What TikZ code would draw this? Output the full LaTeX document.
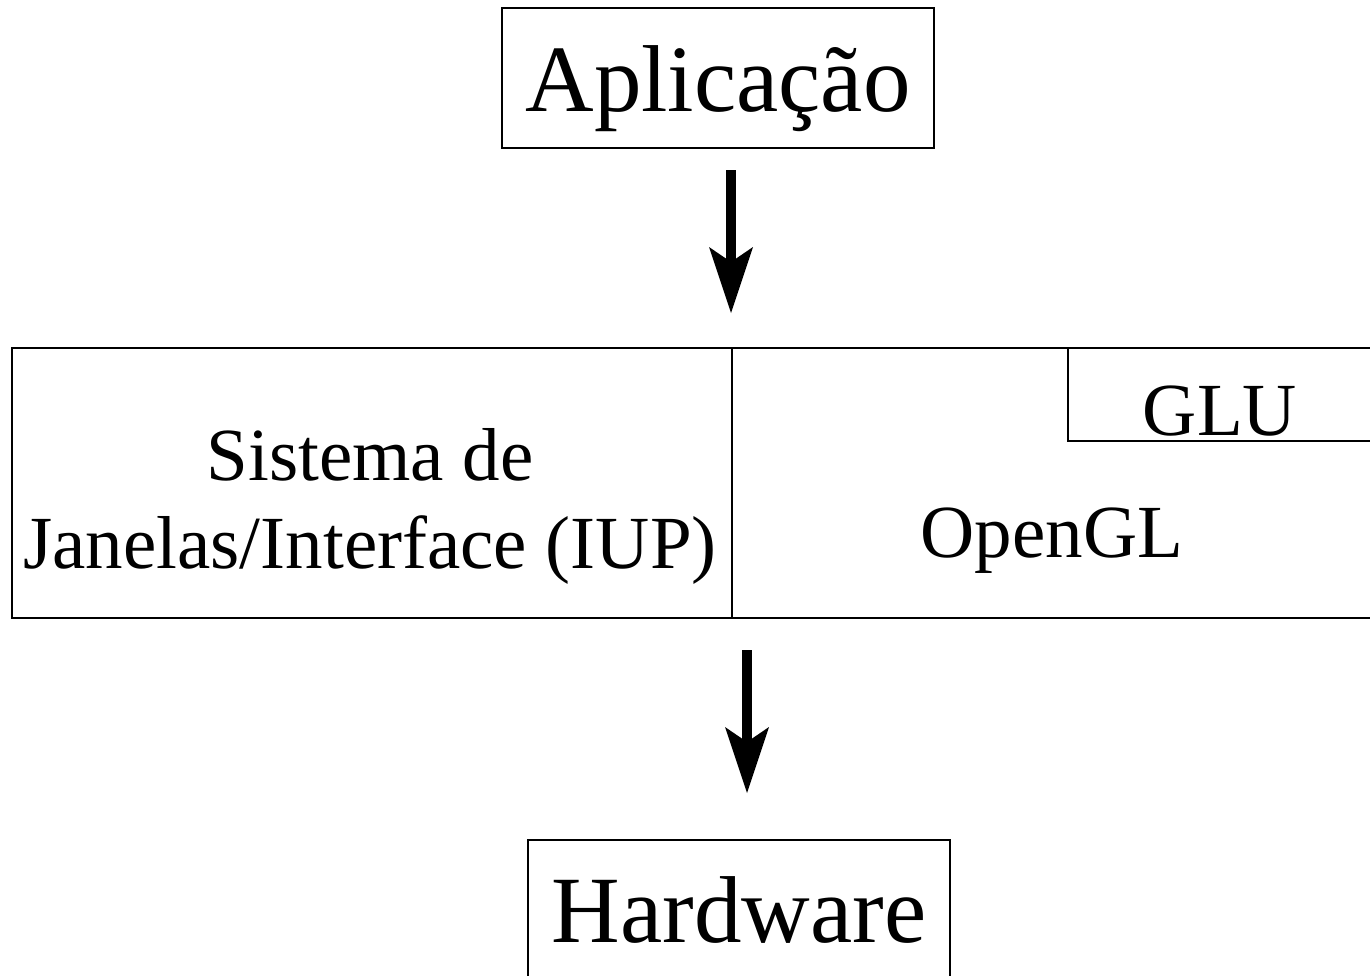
\documentclass[tikz,border=0pt]{standalone}
\usepackage{fontspec}
\setmainfont{Liberation Serif}
\usetikzlibrary{arrows.meta,calc}
\begin{document}
\begin{tikzpicture}[x=1pt,y=-1pt,
  box/.style={draw, line width=2pt, inner sep=0pt, rectangle},
  bigtext/.style={font=\fontsize{95}{110}\selectfont},
  midtext/.style={font=\fontsize{75}{88}\selectfont, inner sep=0pt},
  arr/.style={line width=10pt, -{Stealth[length=66pt,width=44pt,inset=15pt,line width=0pt]}}]
\useasboundingbox (0,0) rectangle (1370,975);
\clip (0,0) rectangle (1370,975);
% boxes
\node[box,bigtext,minimum width=432pt,minimum height=140pt,text height=66pt,text depth=0pt] (apl) at (718,78) {Aplicação};
\node[box,minimum width=720pt,minimum height=270pt] (sys) at (372,483) {};
\node[box,minimum width=640pt,minimum height=270pt] (ogl) at (1052,483) {};
\node[box,midtext,minimum width=304pt,minimum height=93pt,text height=81pt,text depth=0pt] (glu) at (1220,394.5) {GLU};
\node[box,bigtext,minimum width=422pt,minimum height=140pt,text height=64pt,text depth=0pt] (hw) at (739,910) {Hardware};
% cell texts
\node[midtext,anchor=base] (sysT) at (370,480) {\renewcommand{\arraystretch}{1}\setlength{\tabcolsep}{0pt}\begin{tabular}[t]{c}Sistema de\\Janelas/Interface (IUP)\end{tabular}};
\node[midtext,anchor=base] (oglT) at (1052,557) {OpenGL};
% arrow end points
\coordinate (a1s) at ($(apl.south)+(13,21)$);
\coordinate (a1e) at ($(a1s |- sys.north)+(0,-34)$);
\coordinate (a2s) at ($(sys.south east)+(14,31)$);
\coordinate (a2e) at ($(a2s |- hw.north)+(0,-46)$);
% arrows
\draw[arr] (a1s) -- (a1e);
\draw[arr] (a2s) -- (a2e);
\end{tikzpicture}
\end{document}
